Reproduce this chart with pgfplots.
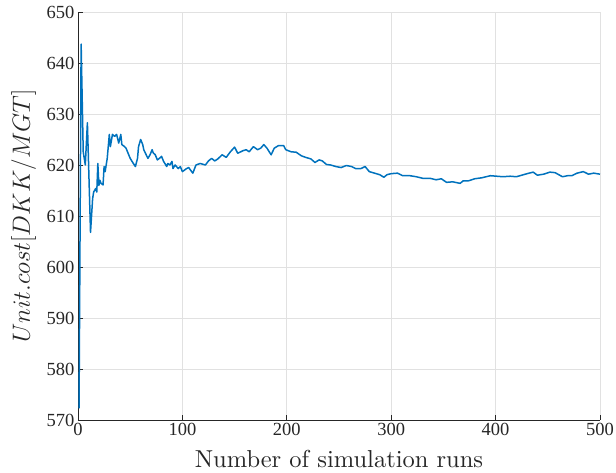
\documentclass[border=0pt]{standalone}
\usepackage{fontspec}
\usepackage{pgfplots}
\pgfplotsset{compat=1.18}
\newfontfamily\tickfont{Liberation Serif}
\newfontfamily\lmten{lmroman10-regular.otf}
\definecolor{mblue}{RGB}{0,114,189}
\definecolor{gridc}{RGB}{225,225,225}
\definecolor{axc}{RGB}{38,38,38}
\begin{document}
\begin{tikzpicture}
\begin{axis}[
  scale only axis,
  width=522pt, height=408pt,
  xmin=0, xmax=500, ymin=570, ymax=650,
  xtick={0,100,...,500}, ytick={570,580,...,650},
  axis x line*=bottom, axis y line*=left,
  axis line style={axc, line width=0.8pt, -},
  tick align=inside, major tick length=5pt,
  tick style={axc, line width=0.8pt},
  grid=major, major grid style={gridc, line width=0.8pt},
  /pgf/number format/assume math mode=true,
  /pgf/number format/1000 sep={},
  ticklabel style={font=\tickfont\fontsize{18.5}{18.5}\selectfont, text=axc},
  xlabel={Number of simulation runs},
  ylabel={$Unit.cost[DKK/MGT]$},
  xlabel style={font=\lmten\fontsize{24.5}{28}\selectfont, text=axc,
    at={(axis description cs:0.5,0)}, anchor=base, yshift=-48pt},
  ylabel style={font=\fontsize{28}{32}\selectfont, text=axc,
    at={(axis description cs:0,0.5)}, anchor=base, yshift=48pt},
]
\addplot[mblue, line width=1.5pt, line join=round] coordinates {
(1,572.3)(3,643.7)(5,622.6)(7,620)(9,628.3)(12,606.8)(14,613.4)(15,614.7)(17,615.4)(18,614.7)
(19,620.3)(20,616)(21,617)(22,616.4)(24,616.1)(25,619.7)(26,618.7)(28,621.3)(30,626)(31,623.6)
(33,626)(35,625.6)(37,626)(39,624.3)(41,626)(42,624)(44,623.7)(46,623.3)(48,622.3)(50,621.3)
(53,620.3)(55,619.7)(57,621.3)(58,623.6)(60,625)(62,624)(63,623)(66,621.7)(67,621.3)(69,622)
(71,623)(72,622.4)(74,622)(76,621)(78,621.3)(80,621.7)(82,620.7)(85,619.7)(86,620.3)(88,620)
(90,620.7)(91,619.3)(93,620)(96,619.3)(98,619.7)(100,618.7)(104,619.3)(106,619.5)(110,618.4)
(113,620)(117,620.3)(122,620)(125,620.8)(128,621.3)(131,620.8)(134,621.2)(138,622)(142,621.5)
(146,622.6)(150,623.5)(153,622.3)(158,622.8)(161,623)(164,622.6)(168,623.6)(172,623)(175,623.3)
(178,624)(181,623.3)(185,622)(188,623.3)(192,623.8)(197,623.8)(199,623)(204,622.6)(209,622.5)
(214,621.8)(218,621.5)(223,621.2)(227,620.5)(231,621)(234,620.8)(238,620.1)(242,620)(247,619.7)
(252,619.5)(257,619.9)(262,619.7)(266,619.3)(271,619.3)(275,619.7)(279,618.7)(284,618.4)
(289,618.1)(293,617.6)(296,618.1)(300,618.3)(306,618.4)(311,617.9)(318,617.9)(324,617.7)
(330,617.4)(337,617.4)(343,617.1)(348,617.3)(353,616.6)(359,616.7)(366,616.4)(369,616.9)
(374,616.9)(380,617.3)(387,617.5)(395,617.9)(401,617.8)(407,617.7)(414,617.8)(420,617.7)
(425,618)(432,618.4)(436,618.6)(440,618)(446,618.2)(452,618.6)(457,618.5)(464,617.7)
(469,617.9)(473,617.9)(478,618.4)(484,618.7)(489,618.2)(494,618.4)(500,618.2)
};
\end{axis}
\pgfresetboundingbox
\path[use as bounding box] (-78pt,-53pt) rectangle (538pt,420pt);
\end{tikzpicture}
\end{document}
